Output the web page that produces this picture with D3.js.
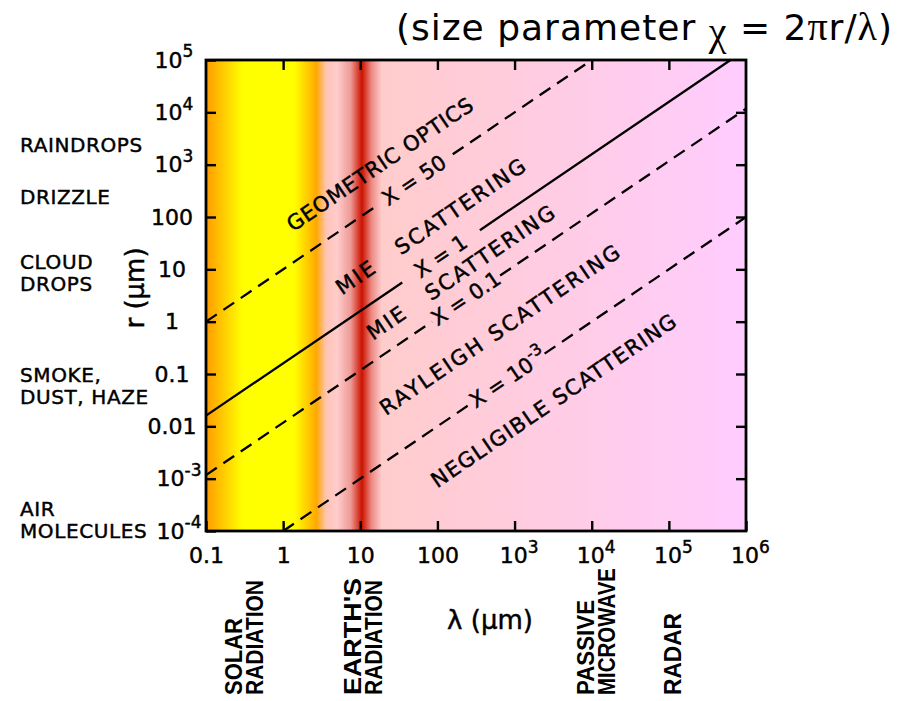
<!DOCTYPE html>
<html><head><meta charset="utf-8">
<script src="https://cdn.jsdelivr.net/npm/d3@7"></script>
<style>body{margin:0;background:#fff}svg{display:block}</style>
</head><body>
<svg id="chart" width="904" height="701"></svg>
<script>
// ---------------- data ----------------
const xTicks = [0.1, 1, 10, 100, 1e3, 1e4, 1e5, 1e6];
const xTickBase = ["0.1", "1", "10", "100", "10", "10", "10", "10"];
const xTickExp  = ["", "", "", "", "3", "4", "5", "6"];
const yTicks = [1e-4, 1e-3, 0.01, 0.1, 1, 10, 100, 1e3, 1e4, 1e5];
const yTickBase = ["10", "10", "0.01", "0.1", "1", "10", "100", "10", "10", "10"];
const yTickExp  = ["-4", "-3", "", "", "", "", "", "3", "4", "5"];

// size parameter lines: [start, gapStart, gapEnd, end]
const chiNames  = ["X = 50", "X = 1", "X = 0.1", "X = 10"];
const chiExp    = ["", "", "", "-3"];
const chiLambda = [[0.1, 15.5, 158, 1e4], [0.1, 35, 355, 6.3e5], [0.1, 85, 650, 1e6], [1, 280, 2450, 1e6]];
const chiR      = [[1, 155, 1580, 1e5], [0.016, 5.6, 56, 1e5], [0.00117, 1.0, 7.6, 1.17e4], [1e-4, 0.028, 0.245, 100]];
const chiDashed = [true, false, true, true];
const chiLabelLambda = [50, 111, 235, 828];
const chiLabelR      = [500, 17.6, 2.76, 0.083];

// scattering regimes
const regimeNames  = ["GEOMETRIC OPTICS", "MIE   SCATTERING", "MIE   SCATTERING", "RAYLEIGH SCATTERING", "NEGLIGIBLE SCATTERING"];
const regimeLambda = [18, 82, 201, 646, 3220];
const regimeR      = [1000, 65, 8.6, 0.69, 0.0306];
const regimeLen    = [220, 224, 222, 285, 291];

// particle categories (left)
const particleNames = [["RAINDROPS"], ["DRIZZLE"], ["CLOUD", "DROPS"], ["SMOKE,", "DUST, HAZE"], ["AIR", "MOLECULES"]];
const particleR     = [2400, 243, 8.6, 0.059, 1.6e-4];

// spectral bands (bottom)
const bandNames  = [["SOLAR", "RADIATION"], ["EARTH'S", "RADIATION"], ["PASSIVE", "MICROWAVE"], ["RADAR"]];
const bandLambda = [0.32, 11, 1.16e4, 1.12e5];
const bandLens   = [[77, 115], [117, 115], [95, 127], [82]];

// background colour band along wavelength
const bgLambda = [0.1, 0.3, 1.4, 2.7, 3.6, 5, 7.5, 10.5, 14, 19, 1e6];
const bgColor  = ["#ff9c00", "#ffff00", "#ffff00", "#ffa800", "#ffc4b4", "#ffcccc", "#ee9a96", "#cc1200", "#ec8a84", "#ffcccc", "#ffccff"];

// ---------------- layout ----------------
const svg = d3.select("#chart");
const L = 206, R = 746, T = 60, B = 531;
const x = d3.scaleLog().domain([0.1, 1e6]).range([L, R]);
const y = d3.scaleLog().domain([1e-4, 1e5]).range([B, T]);
const FONT = "'DejaVu Sans', Verdana, sans-serif";
const thick = sel => sel.attr("stroke", "#000").attr("stroke-width", 0.45);

// gradient
const defs = svg.append("defs");
const grad = defs.append("linearGradient").attr("id", "bg")
  .attr("gradientUnits", "userSpaceOnUse").attr("x1", L).attr("x2", R).attr("y1", 0).attr("y2", 0);
bgLambda.forEach((l, i) => {
  grad.append("stop").attr("offset", (x(l) - L) / (R - L)).attr("stop-color", bgColor[i]);
});
svg.append("rect").attr("x", L).attr("y", T).attr("width", R - L).attr("height", B - T).attr("fill", "url(#bg)");

// lines
const line = d3.line().x(d => x(d[0])).y(d => y(d[1]));
chiLambda.forEach((ls, i) => {
  const rs = chiR[i];
  const segs = [[[ls[0], rs[0]], [ls[1], rs[1]]], [[ls[2], rs[2]], [ls[3], rs[3]]]];
  segs.forEach(s => {
    svg.append("path").attr("d", line(s)).attr("fill", "none").attr("stroke", "#000")
      .attr("stroke-width", 2.3).attr("stroke-dasharray", chiDashed[i] ? "13,8" : null);
  });
});

const ang = Math.atan2(y(1) - y(10), x(10) - x(1)) * 180 / Math.PI;

// chi labels
chiNames.forEach((n, i) => {
  const t = svg.append("text")
    .attr("transform", `translate(${x(chiLabelLambda[i])},${y(chiLabelR[i])}) rotate(${-ang})`)
    .attr("text-anchor", "middle").attr("dominant-baseline", "central")
    .attr("font-family", FONT).attr("font-size", 21).attr("fill", "#000").call(thick);
  t.append("tspan").text(n);
  if (chiExp[i]) t.append("tspan").attr("dy", "-0.55em").attr("font-size", 16).text(chiExp[i]);
});

// regime labels
regimeNames.forEach((n, i) => {
  svg.append("text")
    .attr("transform", `translate(${x(regimeLambda[i])},${y(regimeR[i])}) rotate(${-ang})`)
    .attr("text-anchor", "middle").attr("dominant-baseline", "central")
    .attr("font-family", FONT).attr("font-size", 21).attr("fill", "#000").call(thick)
    .attr("textLength", regimeLen[i]).attr("lengthAdjust", "spacing")
    .attr("xml:space", "preserve")
    .text(n);
});

// frame
svg.append("rect").attr("x", L).attr("y", T).attr("width", R - L).attr("height", B - T)
  .attr("fill", "none").attr("stroke", "#000").attr("stroke-width", 2.8);

// axes
function styleAxis(g) {
  g.select(".domain").remove();
  g.selectAll(".tick line").attr("stroke", "#000").attr("stroke-width", 2.4);
}
const gB = svg.append("g").attr("transform", `translate(0,${B})`)
  .call(d3.axisBottom(x).tickValues(xTicks).tickSizeInner(-10).tickSizeOuter(0).tickPadding(16));
styleAxis(gB);
gB.selectAll(".tick text").each(function(d, i) {
  const t = d3.select(this).text(null).attr("font-family", FONT).attr("font-size", 22).attr("fill", "#000")
    .attr("x", xTickExp[i] ? 4 : 0).call(thick);
  t.append("tspan").text(xTickBase[i]);
  if (xTickExp[i]) t.append("tspan").attr("dy", "-0.55em").attr("font-size", 17).text(xTickExp[i]);
});

const gL = svg.append("g").attr("transform", `translate(${L},0)`)
  .call(d3.axisLeft(y).tickValues(yTicks).tickSizeInner(-10).tickSizeOuter(0).tickPadding(34));
styleAxis(gL);
gL.selectAll(".tick text").each(function(d, i) {
  const neg = yTickExp[i].startsWith("-");
  const t = d3.select(this).text(null).attr("font-family", FONT).attr("font-size", 22).attr("fill", "#000")
    .attr("text-anchor", "middle").attr("x", yTickExp[i] ? (neg ? -27 : -32) : -34).call(thick);
  t.append("tspan").text(yTickBase[i]);
  if (yTickExp[i]) t.append("tspan").attr("dy", "-0.6em").attr("font-size", 17).text(yTickExp[i]);
});

const gT = svg.append("g").attr("transform", `translate(0,${T})`)
  .call(d3.axisTop(x).tickValues(xTicks.slice(1, -1)).tickSizeInner(-10).tickSizeOuter(0).tickFormat(""));
styleAxis(gT);
const gR = svg.append("g").attr("transform", `translate(${R},0)`)
  .call(d3.axisRight(y).tickValues(yTicks.slice(1, -1)).tickSizeInner(-10).tickSizeOuter(0).tickFormat(""));
styleAxis(gR);

// axis titles
svg.append("text").attr("transform", "translate(135,288) rotate(-90)")
  .attr("text-anchor", "middle").attr("dominant-baseline", "central")
  .attr("font-family", FONT).attr("font-size", 26).attr("fill", "#000").call(thick).text("r (\u03bcm)");
svg.append("text").attr("x", 490).attr("y", 620)
  .attr("text-anchor", "middle").attr("dominant-baseline", "central")
  .attr("font-family", FONT).attr("font-size", 26).attr("fill", "#000").call(thick).text("\u03bb (\u03bcm)");

// particle categories
particleNames.forEach((lines, i) => {
  const cy = y(particleR[i]);
  const n = lines.length;
  lines.forEach((s, j) => {
    svg.append("text").attr("x", 20).attr("y", cy + (j - (n - 1) / 2) * 22)
      .attr("dominant-baseline", "central").attr("font-family", FONT).attr("font-size", 20)
      .attr("letter-spacing", 0.6).attr("fill", "#000").call(thick).text(s);
  });
});

// spectral bands
bandNames.forEach((lines, i) => {
  const cx = x(bandLambda[i]);
  const n = lines.length;
  lines.forEach((s, j) => {
    svg.append("text")
      .attr("transform", `translate(${cx + (j - (n - 1) / 2) * 21},695) rotate(-90)`)
      .attr("dominant-baseline", "central").attr("text-anchor", "start")
      .attr("font-family", "'Liberation Sans', Arial, sans-serif").attr("font-weight", "bold")
      .attr("font-size", 23).attr("fill", "#000")
      .attr("textLength", bandLens[i][j]).attr("lengthAdjust", "spacingAndGlyphs")
      .text(s);
  });
});

// title
const title = svg.append("text").attr("x", 893).attr("y", 40).attr("text-anchor", "end")
  .attr("font-family", FONT).attr("font-size", 36).attr("letter-spacing", 1).attr("fill", "#000");
const SERIF = "'Liberation Serif', 'Times New Roman', serif";
title.append("tspan").text("(size parameter ");
title.append("tspan").attr("font-family", SERIF).attr("font-size", 40).attr("dy", 5).text("\u03c7");
title.append("tspan").attr("dy", -5).text(" = 2");
title.append("tspan").attr("font-family", SERIF).attr("font-size", 40).text("\u03c0");
title.append("tspan").text("r/");
title.append("tspan").attr("font-family", SERIF).attr("font-size", 40).text("\u03bb");
title.append("tspan").text(")");
</script>
</body></html>
